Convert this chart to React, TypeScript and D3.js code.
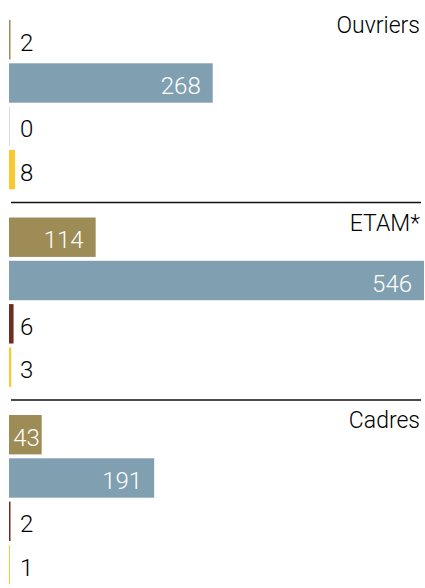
import * as d3 from 'd3';

const groups = ['Ouvriers', 'ETAM*', 'Cadres'];
const series = ['a', 'b', 'c', 'd'];
const seriesColors = ['#9d8c55', '#809fb0', '#6e2e1f', '#f9c933'];
const valuesA = [2, 114, 43];
const valuesB = [268, 546, 191];
const valuesC = [0, 6, 2];
const valuesD = [8, 3, 1];

const W = 425;
const H = 588;
const FONT = 'Roboto, "Noto Sans", sans-serif';

export default function App() {
  const allSeries = [valuesA, valuesB, valuesC, valuesD];
  const maxVal = d3.max(allSeries.flat()) ?? 1;

  const x = d3.scaleLinear().domain([0, maxVal]).range([9, 424]);
  const yGroup = d3.scaleBand<string>().domain(groups).range([20, 20 + 197.5 * groups.length]);
  const yBar = d3.scaleBand<string>().domain(series).range([0, 169.3]).paddingInner(0.09).paddingOuter(0);
  const bh = yBar.bandwidth();

  return (
    <svg width={W} height={H} style={{ position: 'absolute', left: 0, top: 0 }} fontFamily={FONT}>
      {groups.map((g, gi) => {
        const gy = yGroup(g) ?? 0;
        return (
          <g key={g}>
            {gi > 0 && (
              <line x1={11} x2={421} y1={gy - 15} y2={gy - 15} stroke="#111" strokeWidth={1.3} />
            )}
            <text x={420} y={gy + 13} textAnchor="end" fontSize={23} fontWeight={300} fill="#000">
              {g}
            </text>
            {series.map((s, si) => {
              const v = allSeries[si][gi];
              const by = gy + (yBar(s) ?? 0);
              const w = Math.max(x(v) - x(0), 1);
              const label = String(v);
              const tw = label.length * 13.4;
              const inside = w >= 30;
              const tx = inside ? Math.max(x(v) - 12, x(0) + 4 + tw) : x(0) + 11;
              return (
                <g key={s}>
                  <rect
                    x={x(0)}
                    y={by}
                    width={w}
                    height={bh}
                    fill={v === 0 ? '#dddddd' : seriesColors[si]}
                  />
                  <text
                    x={tx}
                    y={by + bh / 2 + 11}
                    textAnchor={inside ? 'end' : 'start'}
                    fontSize={24}
                    fontWeight={300}
                    fill={inside ? '#ffffff' : '#000'}
                  >
                    {label}
                  </text>
                </g>
              );
            })}
          </g>
        );
      })}
    </svg>
  );
}
